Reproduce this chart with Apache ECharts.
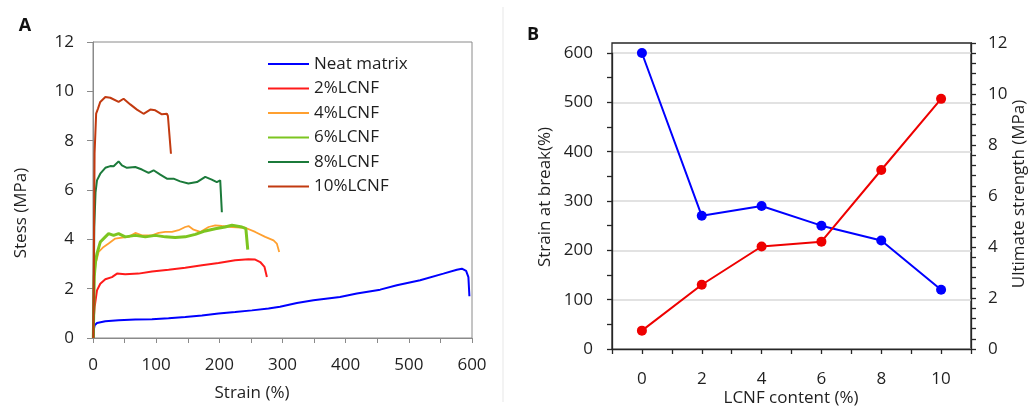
<!DOCTYPE html>
<html>
<head>
<meta charset="utf-8">
<script src="https://cdn.jsdelivr.net/npm/echarts@6/dist/echarts.min.js"></script>
<style>
html,body{margin:0;padding:0;background:#fff;}
#c{width:1029px;height:407px;}
</style>
</head>
<body>
<div id="c"></div>
<script>
// ---------- Panel A: stress-strain curves ----------
const seriesNamesA = ['Neat matrix', '2%LCNF', '4%LCNF', '6%LCNF', '8%LCNF', '10%LCNF'];

const neatStrain = [0.5, 1, 2.6, 6.3, 19.5, 40.5, 67, 93.4, 119.6, 146, 172.5, 198.7, 225, 251.6, 277.8, 296, 322.8, 349, 391, 417.7, 454.6, 481, 517.9, 554.7, 576, 583.9, 590.7, 594.3, 595.9];
const neatStress = [0, 0.3, 0.51, 0.61, 0.68, 0.72, 0.75, 0.76, 0.8, 0.85, 0.91, 0.99, 1.05, 1.12, 1.2, 1.27, 1.42, 1.53, 1.66, 1.8, 1.96, 2.14, 2.34, 2.61, 2.77, 2.81, 2.72, 2.47, 1.69];

const lcnf2Strain = [0.5, 1.5, 2.6, 6.3, 11.5, 19.5, 30, 38, 51, 72, 93.4, 119.6, 146, 172.5, 198.7, 225, 246, 256.8, 264.7, 271.5, 275.3];
const lcnf2Stress = [0, 0.9, 1.26, 1.93, 2.2, 2.38, 2.47, 2.61, 2.58, 2.61, 2.7, 2.77, 2.85, 2.95, 3.04, 3.15, 3.19, 3.18, 3.08, 2.88, 2.47];

const lcnf4Strain = [0.5, 2, 4, 8.9, 16.8, 24.7, 35.3, 45.9, 56.4, 67, 77.5, 93.4, 103.9, 114.4, 125, 135.5, 146, 151.3, 159.2, 169.8, 183, 193.5, 204, 220, 241, 256.8, 272.6, 285.8, 291, 294.8];
const lcnf4Stress = [0, 2.4, 3.0, 3.49, 3.69, 3.83, 4.03, 4.07, 4.1, 4.26, 4.16, 4.16, 4.26, 4.3, 4.3, 4.37, 4.5, 4.54, 4.39, 4.3, 4.5, 4.57, 4.54, 4.5, 4.47, 4.3, 4.1, 3.96, 3.83, 3.49];

const lcnf6Strain = [0.5, 2, 4, 6.3, 11.5, 19.5, 24.7, 32.6, 40.5, 51, 67, 82.8, 98.6, 114.4, 130, 146, 162, 177.7, 193.5, 209, 220, 235.8, 242, 245];
const lcnf6Stress = [0, 2.5, 3.1, 3.42, 3.89, 4.1, 4.23, 4.16, 4.23, 4.1, 4.16, 4.1, 4.16, 4.1, 4.07, 4.1, 4.2, 4.34, 4.43, 4.5, 4.57, 4.5, 4.43, 3.58];

const lcnf8Strain = [0.5, 2, 4, 6.3, 11.5, 19.5, 27.4, 32.7, 40.5, 45.8, 53.7, 66.9, 77.5, 88, 95.9, 106.5, 117, 127.5, 138, 151, 164.6, 177.7, 188, 196, 201.4, 204];
const lcnf8Stress = [0, 4.5, 5.9, 6.39, 6.66, 6.9, 6.97, 6.96, 7.16, 7.0, 6.9, 6.93, 6.83, 6.69, 6.8, 6.62, 6.46, 6.46, 6.35, 6.26, 6.32, 6.53, 6.42, 6.32, 6.39, 5.1];

const lcnf10Strain = [0.5, 2.5, 5, 7.9, 11.5, 19.5, 27.4, 40.5, 48.4, 59, 69.6, 80, 90.7, 98.6, 109, 117, 118.6, 123.4];
const lcnf10Stress = [0, 7.5, 9.1, 9.3, 9.57, 9.77, 9.74, 9.57, 9.7, 9.47, 9.26, 9.09, 9.26, 9.23, 9.07, 9.09, 9.0, 7.47];

const strainTicksA = [0, 100, 200, 300, 400, 500, 600];
const stressTicksA = [0, 2, 4, 6, 8, 10, 12];

// ---------- Panel B: properties vs LCNF content ----------
const lcnfContent = [0, 2, 4, 6, 8, 10];
const strainAtBreak = [600, 270, 290, 250, 220, 120];
const ultimateStrength = [0.72, 2.52, 4.02, 4.21, 7.02, 9.81];

const pair = (xs, ys) => xs.map((x, i) => [x, ys[i]]);

const colorsA = ['#0000ff', '#ff1a1a', '#ffa030', '#7cc520', '#1b7a3a', '#c23a10'];
const widthsA = [2, 2, 1.8, 3, 2, 2];
const dataA = [
  pair(neatStrain, neatStress),
  pair(lcnf2Strain, lcnf2Stress),
  pair(lcnf4Strain, lcnf4Stress),
  pair(lcnf6Strain, lcnf6Stress),
  pair(lcnf8Strain, lcnf8Stress),
  pair(lcnf10Strain, lcnf10Stress)
];

const FONT = '"Open Sans", Lato, sans-serif';
const FS = 17;
const TXT = '#1f1f1f';
const GRAYAX = '#8a8a8a';
const DARKAX = '#262626';

const chart = echarts.init(document.getElementById('c'), null, {renderer: 'canvas'});

const seriesA = seriesNamesA.map((n, i) => ({
  name: n,
  type: 'line',
  xAxisIndex: 0,
  yAxisIndex: 0,
  showSymbol: false,
  symbol: 'none',
  data: dataA[i],
  lineStyle: {color: colorsA[i], width: widthsA[i]},
  itemStyle: {color: colorsA[i]},
  z: 3
}));

const option = {
  animation: false,
  backgroundColor: '#fff',
  textStyle: {fontFamily: FONT},
  legend: {
    left: 268,
    top: 55,
    padding: 0,
    orient: 'vertical',
    icon: 'rect',
    itemWidth: 41,
    itemHeight: 2,
    itemGap: 6.5,
    data: seriesNamesA,
    textStyle: {fontFamily: FONT, fontSize: FS, color: TXT, lineHeight: 18}
  },
  grid: [
    {left: 93, top: 42, width: 379, height: 296, show: true, borderColor: GRAYAX, borderWidth: 1, backgroundColor: 'transparent'},
    {left: 612, top: 53, width: 359, height: 296, show: false},
    {left: 612, top: 43, width: 359, height: 306, show: true, borderColor: DARKAX, borderWidth: 1.3, backgroundColor: 'transparent'}
  ],
  xAxis: [
    {
      gridIndex: 0, type: 'value', min: strainTicksA[0], max: strainTicksA[strainTicksA.length - 1], interval: 100,
      axisLine: {show: true, onZero: false, lineStyle: {color: GRAYAX, width: 1}},
      axisTick: {show: true, inside: false, length: 5, lineStyle: {color: GRAYAX}},
      minorTick: {show: true, splitNumber: 2, length: 5, lineStyle: {color: GRAYAX}},
      splitLine: {show: false},
      axisLabel: {fontSize: FS, color: TXT, margin: 19, fontFamily: FONT}
    },
    {
      gridIndex: 1, type: 'value', min: -1, max: 11, interval: 1, show: false
    },
    {
      gridIndex: 2, type: 'value', min: -1, max: 11, interval: 1,
      axisLine: {show: true, onZero: false, lineStyle: {color: DARKAX, width: 1.3}},
      axisTick: {show: true, inside: false, length: 5, lineStyle: {color: DARKAX, width: 1.3}},
      splitLine: {show: false},
      axisLabel: {
        fontSize: FS, color: TXT, margin: 22, fontFamily: FONT,
        formatter: v => (v >= 0 && v <= 10 && v % 2 === 0) ? String(v) : ''
      }
    }
  ],
  yAxis: [
    {
      gridIndex: 0, type: 'value', min: stressTicksA[0], max: stressTicksA[stressTicksA.length - 1], interval: 2,
      axisLine: {show: true, onZero: false, lineStyle: {color: GRAYAX, width: 1}},
      axisTick: {show: true, inside: false, length: 6, lineStyle: {color: GRAYAX}},
      splitLine: {show: false},
      axisLabel: {fontSize: FS, color: TXT, margin: 19, fontFamily: FONT}
    },
    {
      gridIndex: 1, type: 'value', min: 0, max: 600, interval: 100, position: 'left',
      axisLine: {show: true, onZero: false, lineStyle: {color: DARKAX, width: 1.3}},
      axisTick: {show: true, inside: false, length: 5, lineStyle: {color: DARKAX, width: 1.3}},
      minorTick: {show: true, splitNumber: 2, length: 5, lineStyle: {color: DARKAX, width: 1.3}},
      splitLine: {show: true, lineStyle: {color: '#d9d9d9', width: 1.5}},
      axisLabel: {fontSize: FS, color: TXT, margin: 19, fontFamily: FONT}
    },
    {
      gridIndex: 2, type: 'value', min: 0, max: 12, interval: 2, position: 'right',
      axisLine: {show: true, onZero: false, lineStyle: {color: DARKAX, width: 1.3}},
      axisTick: {show: true, inside: false, length: 5, lineStyle: {color: DARKAX, width: 1.3}},
      minorTick: {show: true, splitNumber: 5, length: 5, lineStyle: {color: DARKAX, width: 1.3}},
      splitLine: {show: false},
      axisLabel: {fontSize: FS, color: TXT, margin: 17, fontFamily: FONT}
    }
  ],
  series: seriesA.concat([
    {
      name: 'Strain at break', type: 'line', xAxisIndex: 1, yAxisIndex: 1,
      data: pair(lcnfContent, strainAtBreak),
      symbol: 'circle', symbolSize: 10, showSymbol: true,
      lineStyle: {color: '#0000ff', width: 2}, itemStyle: {color: '#0000ff'}, z: 4
    },
    {
      name: 'Ultimate strength', type: 'line', xAxisIndex: 2, yAxisIndex: 2,
      data: pair(lcnfContent, ultimateStrength),
      symbol: 'circle', symbolSize: 10, showSymbol: true,
      lineStyle: {color: '#ee0000', width: 2}, itemStyle: {color: '#ee0000'}, z: 5
    }
  ]),
  graphic: [
    {type: 'line', shape: {x1: 503, y1: 7, x2: 503, y2: 402}, style: {stroke: '#f3f3f3', lineWidth: 2}, silent: true},
    {type: 'text', x: 25, y: 26, style: {text: 'A', font: 'bold 18px ' + FONT, fill: '#111', align: 'center', verticalAlign: 'middle'}},
    {type: 'text', x: 533, y: 35, style: {text: 'B', font: 'bold 18px ' + FONT, fill: '#111', align: 'center', verticalAlign: 'middle'}},
    {type: 'text', x: 252, y: 393, style: {text: 'Strain (%)', font: FS + 'px ' + FONT, fill: TXT, align: 'center', verticalAlign: 'middle'}},
    {type: 'text', x: 21, y: 213, rotation: Math.PI / 2, style: {text: 'Stess (MPa)', font: FS + 'px ' + FONT, fill: TXT, align: 'center', verticalAlign: 'middle'}},
    {type: 'text', x: 545, y: 197, rotation: Math.PI / 2, style: {text: 'Strain at break(%)', font: FS + 'px ' + FONT, fill: TXT, align: 'center', verticalAlign: 'middle'}},
    {type: 'text', x: 1019, y: 194, rotation: Math.PI / 2, style: {text: 'Ultimate strength (MPa)', font: FS + 'px ' + FONT, fill: TXT, align: 'center', verticalAlign: 'middle'}},
    {type: 'text', x: 791, y: 398, style: {text: 'LCNF content (%)', font: FS + 'px ' + FONT, fill: TXT, align: 'center', verticalAlign: 'middle'}}
  ]
};

chart.setOption(option);
</script>
</body>
</html>
